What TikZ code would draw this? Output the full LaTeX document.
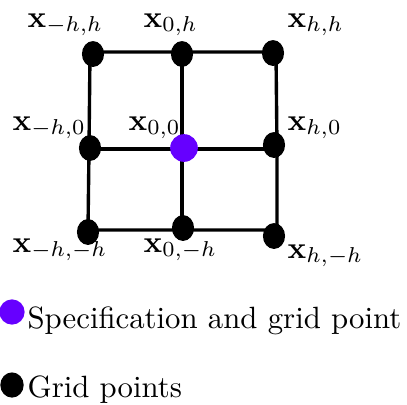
\documentclass[tikz,border=0pt]{standalone}
\usetikzlibrary{shapes.geometric}
\definecolor{specpurple}{RGB}{102,0,255}
\begin{document}
\begin{tikzpicture}[x=0.325pt,y=-0.325pt,
  gridline/.style={draw=black,line width=1.1pt},
  blackdot/.style={ellipse,fill=black,inner sep=0pt,minimum width=7.2pt,minimum height=8.4pt},
  specdot/.style={circle,fill=specpurple,inner sep=0pt,minimum size=9pt},
  lbl/.style={inner sep=0pt,anchor=base west}]
\useasboundingbox (0,0) rectangle (407,404);
% grid line coordinates
\coordinate (g00) at (90,52);  \coordinate (g10) at (182,52);  \coordinate (g20) at (276,52);
\coordinate (g01) at (89,149); \coordinate (g11) at (182,149); \coordinate (g21) at (277,149);
\coordinate (g02) at (88,230); \coordinate (g12) at (182,230); \coordinate (g22) at (277,230);
\draw[gridline] (g00) -- (g10) -- (g20) -- (g21) -- (g22) -- (g12) -- (g02) -- (g01) -- cycle;
\draw[gridline] (g10) -- (g11) -- (g12);
\draw[gridline] (g01) -- (g11) -- (g21);
% dots
\node[blackdot] (tl) at (93,54) {};
\node[blackdot] (tm) at (182,54) {};
\node[blackdot] (tr) at (273,53) {};
\node[blackdot] (ml) at (90,148) {};
\node[specdot]  (mm) at (184,148) {};
\node[blackdot] (mr) at (274,145) {};
\node[blackdot] (bl) at (88,232) {};
\node[blackdot] (bm) at (183,228) {};
\node[blackdot] (br) at (274,236) {};
% labels
\node[lbl] (ltl) at (27,27) {$\mathbf{x}_{-h,h}$};
\node[lbl] (ltm) at (143,27) {$\mathbf{x}_{0,h}$};
\node[lbl] (ltr) at (287,27) {$\mathbf{x}_{h,h}$};
\node[lbl] (lml) at (12,130) {$\mathbf{x}_{-h,0}$};
\node[lbl] (lmm) at (128,130) {$\mathbf{x}_{0,0}$};
\node[lbl] (lmr) at (287,130) {$\mathbf{x}_{h,0}$};
\node[lbl] (lbl) at (12,252) {$\mathbf{x}_{-h,-h}$};
\node[lbl] (lbm) at (143,252) {$\mathbf{x}_{0,-h}$};
\node[lbl] (lbr) at (287,258) {$\mathbf{x}_{h,-h}$};
% legend
\node[specdot,minimum size=8.2pt] (legspec) at (12,312) {};
\node[lbl] (legspect) at (27,328) {Specification and grid point};
\node[blackdot,minimum width=7.6pt,minimum height=8.2pt] (leggrid) at (12,385) {};
\node[lbl] (leggridt) at (27,397) {Grid points};
\end{tikzpicture}
\end{document}
